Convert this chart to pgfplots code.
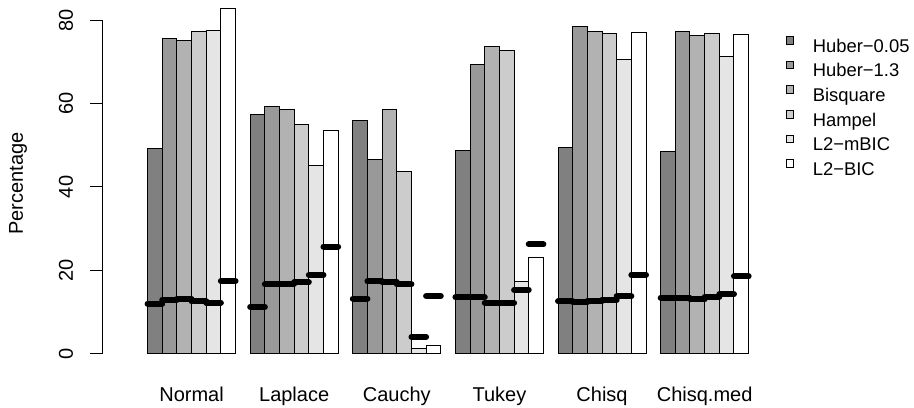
\documentclass[border=0pt]{standalone}
\usepackage{pgfplots}
\usepackage{pgfplotstable}
\usepackage{fontspec}
\setmainfont{Liberation Sans}
\pgfplotsset{compat=1.18}

% Columns: g = scenario index, pct = bar height, ref = level of the thick black mark
\pgfplotstableread{
g pct ref
0 49.3 12.0
1 57.5 11.2
2 55.9 13.2
3 48.8 13.5
4 49.4 12.5
5 48.6 13.4
}\tabHubA
\pgfplotstableread{
g pct ref
0 75.6 12.9
1 59.4 16.6
2 46.7 17.3
3 69.5 13.5
4 78.6 12.3
5 77.4 13.3
}\tabHubB
\pgfplotstableread{
g pct ref
0 75.3 13.1
1 58.7 16.8
2 58.5 17.2
3 73.7 12.2
4 77.4 12.6
5 76.4 13.0
}\tabBisq
\pgfplotstableread{
g pct ref
0 77.3 12.5
1 54.9 17.1
2 43.8 16.6
3 72.8 12.2
4 76.8 12.9
5 76.8 13.6
}\tabHamp
\pgfplotstableread{
g pct ref
0 77.5 12.2
1 45.2 18.9
2 1.2 4.0
3 17.2 15.3
4 70.7 13.7
5 71.3 14.2
}\tabMBIC
\pgfplotstableread{
g pct ref
0 82.8 17.4
1 53.6 25.7
2 2.0 13.8
3 23.1 26.2
4 77.2 18.9
5 76.6 18.5
}\tabBIC

\pgfplotsset{
  rbar/.style={ybar, bar width=1, bar shift=0pt, draw=black, line width=0.5pt},
  % one bar wide (x = 7.33pt per unit), thick with round ends
  rseg/.style={forget plot, only marks, mark=-, mark size=3.665pt,
    mark options={line width=3pt, line cap=round, draw=black}},
}

\begin{document}
\begin{tikzpicture}
\path[use as bounding box] (-51.5pt,-26.75pt) rectangle (405.5pt,176.75pt);
\begin{axis}[
  at={(0,0)}, anchor=south west,
  x=7.33pt, y=2.08125pt,
  xmin=-2.04, xmax=43.64, ymin=0, ymax=80,
  clip=false,
  axis y line*=left, axis x line*=bottom,
  x axis line style={draw=none},
  y axis line style={line width=0.5pt},
  tick align=outside,
  major tick length=6.3pt,
  ytick={0,20,40,60,80},
  ytick style={line width=0.5pt, color=black},
  xtick={4,11,18,25,32,39},
  xticklabels={Normal,Laplace,Cauchy,Tukey,Chisq,Chisq.med},
  xtick style={draw=none},
  /pgf/number format/assume math mode=true,
  ticklabel style={font=\fontsize{10pt}{12pt}\selectfont},
  yticklabel style={rotate=90, anchor=south, inner sep=0pt},
  yticklabel shift=8.5pt,
  xticklabel style={anchor=base, inner sep=0pt},
  xticklabel shift=17.5pt,
  ylabel={Percentage},
  every axis y label/.style={at={(axis description cs:-0.1198,0.511)}, rotate=90, anchor=base, font=\fontsize{10pt}{12pt}\selectfont},
  legend style={at={(axis cs:44.54,76.28)}, anchor=north west, draw=none, fill=none,
    inner sep=0pt, outer sep=0pt, column sep=9.2pt,
    font=\fontsize{9.2pt}{11pt}\selectfont,
    nodes={inner sep=0pt, text height=7pt, text depth=2pt},
    row sep=2.3pt},
  legend cell align=left,
  legend image code/.code={\filldraw[#1, draw=black, line width=0.5pt] (0pt,1.5pt) rectangle (3.8pt,5.3pt);},
]
\addplot[rbar, fill=black!50] table[x expr=7*\thisrow{g}+1.5, y=pct] {\tabHubA};
\addlegendentry{Huber−0.05}
\addplot[rbar, fill=black!40] table[x expr=7*\thisrow{g}+2.5, y=pct] {\tabHubB};
\addlegendentry{Huber−1.3}
\addplot[rbar, fill=black!30] table[x expr=7*\thisrow{g}+3.5, y=pct] {\tabBisq};
\addlegendentry{Bisquare}
\addplot[rbar, fill=black!20] table[x expr=7*\thisrow{g}+4.5, y=pct] {\tabHamp};
\addlegendentry{Hampel}
\addplot[rbar, fill=black!10] table[x expr=7*\thisrow{g}+5.5, y=pct] {\tabMBIC};
\addlegendentry{L2−mBIC}
\addplot[rbar, fill=white] table[x expr=7*\thisrow{g}+6.5, y=pct] {\tabBIC};
\addlegendentry{L2−BIC}

\addplot[rseg] table[x expr=7*\thisrow{g}+1.5, y=ref] {\tabHubA};
\addplot[rseg] table[x expr=7*\thisrow{g}+2.5, y=ref] {\tabHubB};
\addplot[rseg] table[x expr=7*\thisrow{g}+3.5, y=ref] {\tabBisq};
\addplot[rseg] table[x expr=7*\thisrow{g}+4.5, y=ref] {\tabHamp};
\addplot[rseg] table[x expr=7*\thisrow{g}+5.5, y=ref] {\tabMBIC};
\addplot[rseg] table[x expr=7*\thisrow{g}+6.5, y=ref] {\tabBIC};
\end{axis}
\end{tikzpicture}
\end{document}
